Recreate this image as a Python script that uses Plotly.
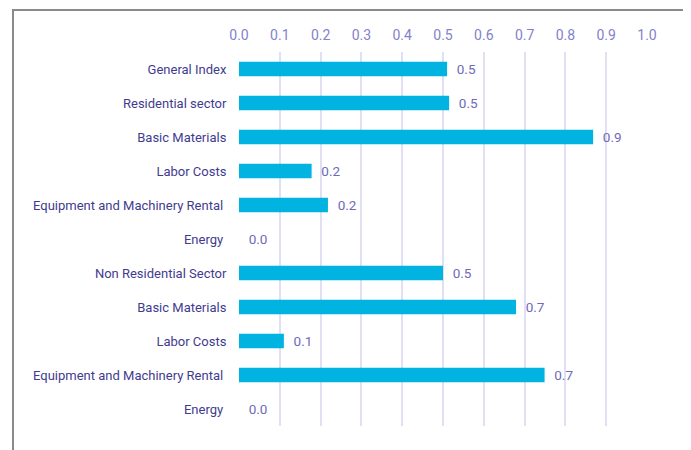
import plotly.graph_objects as go

categories = [
    "General Index", "Residential sector", "Basic Materials", "Labor Costs",
    "Equipment and Machinery Rental ", "Energy ", "Non Residential Sector",
    "Basic Materials", "Labor Costs", "Equipment and Machinery Rental ", "Energy ",
]
values = [0.51, 0.515, 0.868, 0.178, 0.218, 0.0, 0.50, 0.679, 0.110, 0.749, 0.0]
x_ticks = [0.0, 0.1, 0.2, 0.3, 0.4, 0.5, 0.6, 0.7, 0.8, 0.9, 1.0]

positions = list(range(len(categories)))

fig = go.Figure()
fig.add_trace(go.Bar(
    x=values, y=positions, orientation="h", width=0.42,
    marker=dict(color="#00b3e0", line=dict(width=0)),
    texttemplate="  %{x:.1f}", textposition="outside", cliponaxis=False,
    constraintext="none",
    textfont=dict(family="Roboto", size=13.5, color="#6d6bb8"),
    hoverinfo="skip",
))

fig.update_layout(
    width=691, height=450,
    margin=dict(l=231, r=52, t=44, b=32),
    paper_bgcolor="white", plot_bgcolor="white",
    showlegend=False,
    font=dict(family="Roboto", size=13),
    xaxis=dict(
        side="top", range=[0, 1.0], tickvals=x_ticks,
        ticktext=[f"{v:.1f}" for v in x_ticks],
        showgrid=True, gridcolor="#e1dff2", gridwidth=2,
        zeroline=False, showline=False,
        tickfont=dict(family="Roboto", size=14, color="#8381cc"),
        ticks="outside", ticklen=5, tickcolor="rgba(0,0,0,0)",
    ),
    yaxis=dict(
        range=[10.5, -0.5], tickvals=positions, ticktext=categories,
        showgrid=False, zeroline=False, showline=False,
        tickfont=dict(family="Roboto", size=13, color="#3f3c8f"),
        ticks="outside", ticklen=9, tickcolor="rgba(0,0,0,0)",
    ),
    shapes=[dict(
        type="rect", xref="paper", yref="paper",
        x0=(13 - 239) / 408, x1=(686 - 239) / 408,
        y0=-0.2, y1=(426 - 10) / 374,
        line=dict(color="#8a8a8a", width=2), fillcolor="rgba(0,0,0,0)",
        layer="below",
    )],
)

fig.write_html("out.html")
